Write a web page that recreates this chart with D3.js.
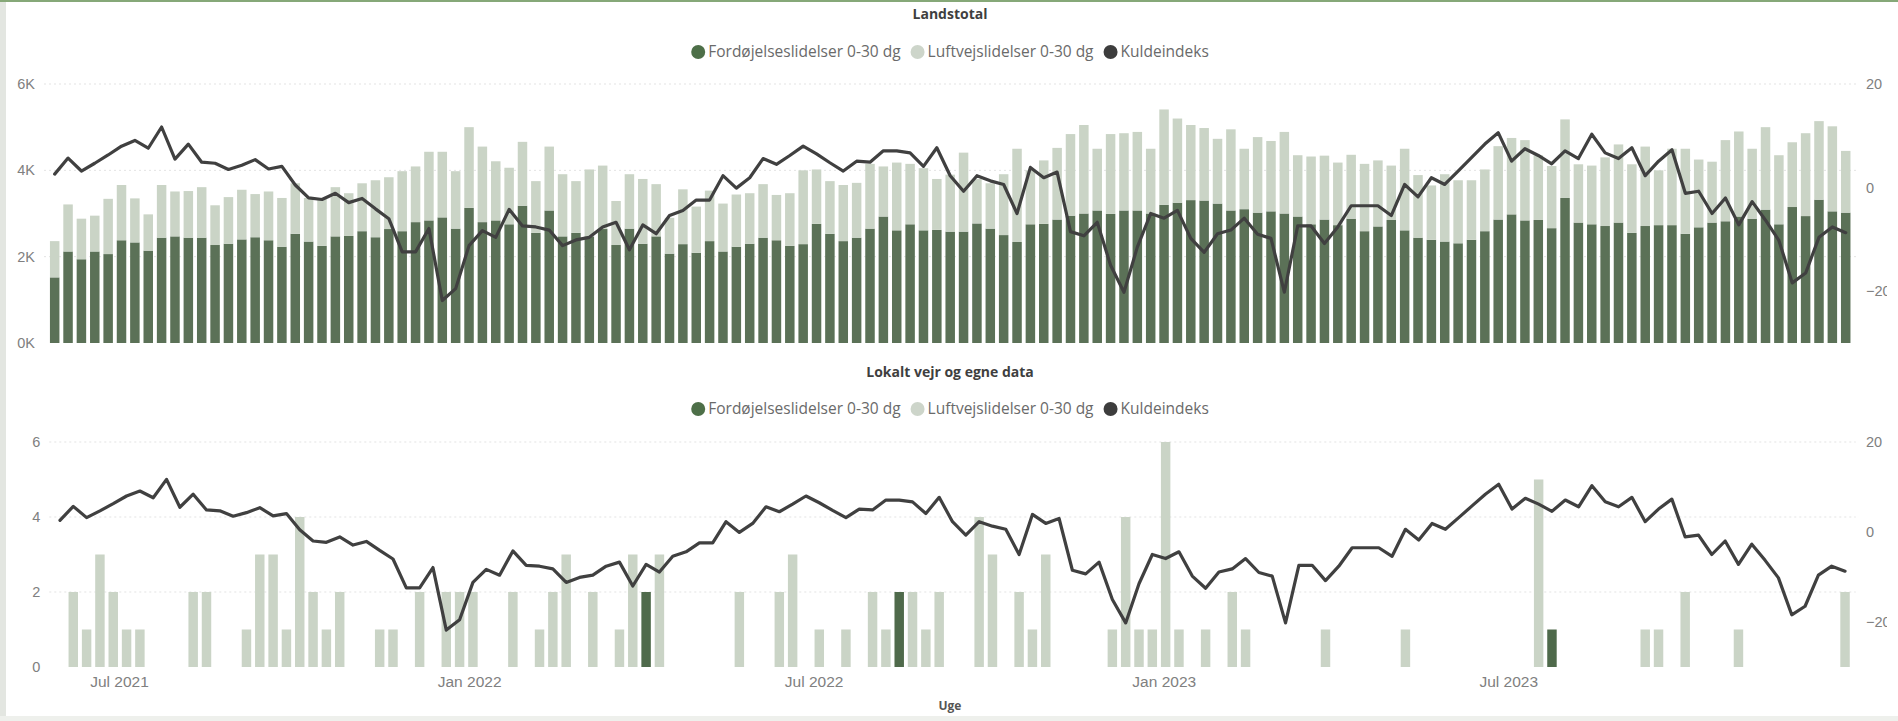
<!DOCTYPE html>
<html><head><meta charset="utf-8">
<script src="https://cdn.jsdelivr.net/npm/d3@7"></script>
<style>
body{margin:0;background:#fff;overflow:hidden;}
svg{display:block;font-family:"Open Sans","Noto Sans",sans-serif;}
</style>
</head><body>
<svg id="c" width="1898" height="721"></svg>
<script>
// ---------- DATA ----------
const firstWeek = "2021-05-31";   // "Uge" (weekly), 135 weeks
const seriesNames = ["Fordøjelseslidelser 0-30 dg", "Luftvejslidelser 0-30 dg", "Kuldeindeks"];
const panelTitles = ["Landstotal", "Lokalt vejr og egne data"];
const xAxisTitle = "Uge";

// Landstotal – Fordøjelseslidelser 0-30 dg
const landsFordoejelse = [
1520,2120,1940,2120,2060,2380,2330,2140,2440,2470,
2440,2440,2270,2300,2400,2450,2380,2230,2530,2350,
2250,2470,2480,2590,2450,2640,2590,2800,2840,2910,
2650,3130,2800,2840,2750,3180,2550,3070,2470,2550,
2470,2640,2270,2650,2300,2470,2070,2290,2090,2360,
2120,2230,2300,2440,2380,2250,2290,2760,2530,2360,
2440,2650,2930,2610,2750,2610,2620,2580,2580,2770,
2650,2500,2340,2750,2760,2860,2950,3000,3070,2990,
3070,3070,3000,3200,3250,3310,3300,3230,3070,3100,
3020,3050,3000,2930,2750,2860,2730,2880,2590,2700,
2850,2610,2440,2390,2350,2310,2390,2590,2860,2980,
2840,2850,2660,3360,2790,2750,2710,2790,2550,2710,
2730,2730,2530,2680,2790,2820,2930,2880,3090,2750,
3150,2940,3320,3050,3020];
// Landstotal – Luftvejslidelser 0-30 dg
const landsLuftvej = [
840,1090,940,830,1280,1280,1020,840,1220,1040,
1080,1170,920,1080,1150,1000,1130,1130,1170,1010,
1110,1140,990,1110,1320,1200,1390,1290,1590,1520,
1330,1870,1750,1370,1310,1480,1200,1480,1440,1200,
1550,1470,1020,1260,1500,1210,830,1270,1070,1170,
1110,1210,1170,1240,1050,1220,1710,1260,1220,1300,
1270,1500,1160,1570,1400,1440,1180,1320,1830,1030,
1050,1410,2160,1250,1470,1660,1890,2050,1430,1850,
1790,1820,1500,2210,1950,1740,1680,1500,1880,1400,
1750,1630,1890,1420,1570,1480,1450,1480,1560,1530,
1260,1890,1450,1260,1560,1460,1380,1430,1700,1770,
1860,1500,1440,1820,1350,1360,1590,1810,1590,1840,
1270,1770,1970,1570,1410,1880,1970,1620,1910,1600,
1500,1920,1820,1970,1430];
// Kuldeindeks
const kuldeindeks = [
2.6,5.7,3.2,4.7,6.3,8.0,9.1,7.6,11.7,5.5,
8.4,4.9,4.7,3.5,4.3,5.4,3.6,4.1,0.5,-2.0,
-2.3,-1.1,-2.9,-2.1,-4.1,-6.0,-12.4,-12.4,-7.9,-21.8,
-19.5,-11.2,-8.3,-9.6,-4.2,-7.4,-7.6,-8.2,-11.2,-10.1,
-9.6,-7.6,-6.7,-12.0,-7.2,-8.9,-5.4,-4.4,-2.4,-2.4,
2.3,-0.1,1.9,5.6,4.5,6.2,8.0,6.5,4.8,3.2,
5.1,4.9,7.1,7.1,6.7,4.1,7.7,2.3,-0.7,2.3,
1.3,0.6,-5.0,3.9,1.9,3.0,-8.5,-9.3,-6.7,-15.0,
-20.2,-11.5,-5.0,-5.9,-4.4,-9.8,-12.5,-8.9,-8.2,-5.9,
-9.0,-9.8,-20.2,-7.4,-7.4,-10.8,-7.6,-3.5,-3.5,-3.5,
-5.4,0.6,-1.8,1.9,0.6,3.2,5.8,8.4,10.6,5.1,
7.5,6.2,4.6,7.1,5.6,10.3,6.7,5.6,7.7,2.3,
5.1,7.3,-1.1,-0.7,-5.0,-2.0,-7.2,-2.7,-6.3,-10.2,
-18.4,-16.5,-9.6,-7.6,-8.7];
// Lokalt – Fordøjelseslidelser 0-30 dg
const lokalFordoejelse = [
0,0,0,0,0,0,0,0,0,0, 0,0,0,0,0,0,0,0,0,0,
0,0,0,0,0,0,0,0,0,0, 0,0,0,0,0,0,0,0,0,0,
0,0,0,0,2,0,0,0,0,0, 0,0,0,0,0,0,0,0,0,0,
0,0,0,2,0,0,0,0,0,0, 0,0,0,0,0,0,0,0,0,0,
0,0,0,0,0,0,0,0,0,0, 0,0,0,0,0,0,0,0,0,0,
0,0,0,0,0,0,0,0,0,0, 0,0,1,0,0,0,0,0,0,0,
0,0,0,0,0,0,0,0,0,0, 0,0,0,0,0];
// Lokalt – Luftvejslidelser 0-30 dg
const lokalLuftvej = [
0,2,1,3,2,1,1,0,0,0, 2,2,0,0,1,3,3,1,4,2,
1,2,0,0,1,1,0,2,0,2, 2,2,0,0,2,0,1,2,3,0,
2,0,1,3,0,3,0,0,0,0, 0,2,0,0,2,3,0,1,0,1,
0,2,1,0,2,1,2,0,0,4, 3,0,2,1,3,0,0,0,0,1,
4,1,1,6,1,0,1,0,2,1, 0,0,0,0,0,1,0,0,0,0,
0,1,0,0,0,0,0,0,0,0, 0,5,0,0,0,0,0,0,0,1,
1,0,2,0,0,0,1,0,0,0, 0,0,0,0,2];

const leftTicksTop = [0, 2000, 4000, 6000];
const leftTicksBottom = [0, 2, 4, 6];
const rightTicks = [-20, 0, 20];

// ---------- STYLE ----------
const C = {
  dark: "#5b7157", light: "#cad4c6", line: "#404040",
  legDark: "#4d6f48", legLight: "#cdd5ca", legLine: "#3d3d3d",
  grid: "#e3e3e3", tick: "#808080", title: "#3f3f3f", legText: "#6a6a6a"
};

const svg = d3.select("#c");
const W = 1898, H = 721;

// frame decoration
svg.append("rect").attr("x",0).attr("y",0).attr("width",W).attr("height",H).attr("fill","#fff");
svg.append("rect").attr("x",0).attr("y",0).attr("width",6).attr("height",H).attr("fill","#e3e6e1");
svg.append("rect").attr("x",0).attr("y",716).attr("width",W).attr("height",5).attr("fill","#eef0ec");
svg.append("rect").attr("x",0).attr("y",0).attr("width",W).attr("height",2).attr("fill","#86a878");

svg.append("clipPath").attr("id","rc").append("rect").attr("x",0).attr("y",0).attr("width",1887).attr("height",H);

const parse = d3.timeParse("%Y-%m-%d");
const start = parse(firstWeek);
const weeks = d3.range(landsFordoejelse.length).map(i => d3.timeWeek.offset(start, i));
const HALF = 3.5 * 864e5;
const dom = [new Date(+weeks[0] - HALF), new Date(+weeks[weeks.length-1] + HALF)];

function legend(y) {
  const g = svg.append("g").attr("font-size", 15.5);
  const items = [
    {name: seriesNames[0], col: C.legDark},
    {name: seriesNames[1], col: C.legLight},
    {name: seriesNames[2], col: C.legLine}
  ];
  let x = 0;
  const parts = [];
  items.forEach(it => {
    const gi = g.append("g");
    gi.append("circle").attr("cx", 7).attr("cy", 0).attr("r", 7).attr("fill", it.col);
    const t = gi.append("text").attr("x", 17).attr("y", 0).attr("dy","0.35em")
      .attr("fill", C.legText).text(it.name);
    const w = 17 + t.node().getComputedTextLength();
    parts.push({gi, x});
    x += w + 10;
  });
  const total = x - 10;
  const x0 = 950 - total/2;
  parts.forEach(p => p.gi.attr("transform", `translate(${x0 + p.x},${y})`));
}

function panel(opt) {
  const x = d3.scaleTime().domain(dom).range([opt.x0, opt.x1]);
  const step = x(weeks[1]) - x(weeks[0]);
  const bw = step * 0.71;
  const yL = d3.scaleLinear().domain(opt.leftDomain).range([opt.yBottom, opt.yTop]);
  const yR = d3.scaleLinear().domain([-30, 20]).range([opt.yBottom, opt.yTop]);

  // title
  svg.append("text").attr("x", 950).attr("y", opt.titleY).attr("dy","0.35em")
    .attr("text-anchor","middle").attr("font-weight","bold").attr("font-size",14)
    .attr("fill", C.title).text(opt.title);
  legend(opt.legendY);

  // grid
  const gg = svg.append("g");
  opt.leftTicks.filter(v => v !== 0).forEach(v => {
    gg.append("line").attr("x1", opt.x0 - 4).attr("x2", opt.x1 + 4)
      .attr("y1", yL(v)).attr("y2", yL(v))
      .attr("stroke", C.grid).attr("stroke-width",1).attr("stroke-dasharray","2,3");
  });

  // left axis
  const la = svg.append("g").attr("transform", `translate(${opt.x0 - 10},0)`)
    .call(d3.axisLeft(yL).tickValues(opt.leftTicks).tickSize(0).tickFormat(opt.leftFmt));
  la.select(".domain").remove();
  la.selectAll("text").attr("fill", C.tick).attr("font-size", 14.5).attr("font-family", null);

  // right axis
  const ra = svg.append("g").attr("clip-path","url(#rc)").append("g")
    .attr("transform", `translate(${1866},0)`)
    .call(d3.axisRight(yR).tickValues(rightTicks).tickSize(0).tickPadding(0));
  ra.select(".domain").remove();
  ra.selectAll("text").attr("fill", C.tick).attr("font-size", 14.5).attr("font-family", null);

  // bars (stacked)
  const bars = svg.append("g");
  weeks.forEach((d, i) => {
    const a = opt.dark[i], b = opt.light[i];
    if (a > 0) bars.append("rect").attr("x", x(d) - bw/2).attr("width", bw)
      .attr("y", yL(a)).attr("height", yL(0) - yL(a)).attr("fill", opt.darkCol);
    if (b > 0) bars.append("rect").attr("x", x(d) - bw/2).attr("width", bw)
      .attr("y", yL(a + b)).attr("height", yL(a) - yL(a + b)).attr("fill", C.light);
  });

  // line
  const line = d3.line().x((v, i) => x(weeks[i])).y(v => yR(v));
  svg.append("path").datum(kuldeindeks).attr("d", line)
    .attr("fill","none").attr("stroke", C.line).attr("stroke-width", 3.2)
    .attr("stroke-linejoin","round").attr("stroke-linecap","round");

  // x axis
  if (opt.showX) {
    const xa = svg.append("g").attr("transform", `translate(0,${opt.yBottom + 6})`)
      .call(d3.axisBottom(x).ticks(d3.timeMonth.every(6)).tickSize(0).tickFormat(d3.timeFormat("%b %Y")));
    xa.select(".domain").remove();
    xa.selectAll("text").attr("fill", C.tick).attr("font-size", 15.5).attr("font-family", null);
    svg.append("text").attr("x", 950).attr("y", 706).attr("dy","0.35em")
      .attr("text-anchor","middle").attr("font-weight","bold").attr("font-size",12)
      .attr("fill", "#555").text(xAxisTitle);
  }
}

panel({
  title: panelTitles[0], titleY: 14, legendY: 52,
  x0: 48, x1: 1852.4, yTop: 84, yBottom: 343,
  leftDomain: [0, 6000], leftTicks: leftTicksTop, leftFmt: d => (d/1000) + "K",
  dark: landsFordoejelse, light: landsLuftvej, darkCol: C.dark, showX: false
});
panel({
  title: panelTitles[1], titleY: 372, legendY: 409,
  x0: 53.3, x1: 1851.7, yTop: 442, yBottom: 667,
  leftDomain: [0, 6], leftTicks: leftTicksBottom, leftFmt: d3.format("d"),
  dark: lokalFordoejelse, light: lokalLuftvej, darkCol: "#4f6a4b", showX: true
});
</script>
</body></html>
